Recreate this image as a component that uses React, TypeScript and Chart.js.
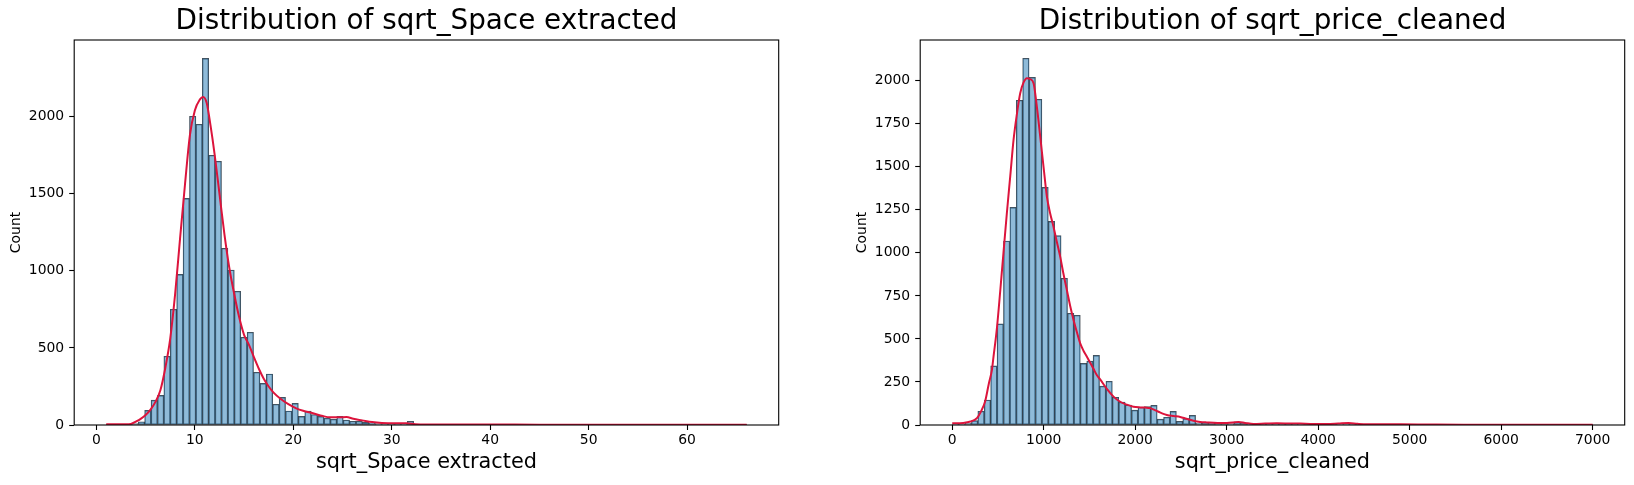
import React, { useEffect, useRef } from 'react';
import { Chart, registerables } from 'chart.js';

Chart.register(...registerables);

const FONT = "'DejaVu Sans', sans-serif";

// sqrt_Space extracted: 100 bins from 1.0, width 0.6505
const spaceBinStart = 1.0;
const spaceBinWidth = 0.6505;
const spaceCounts = [
    1, 1, 2, 4, 10, 21, 95, 161, 192, 446,
    751, 977, 1470, 2002, 1950, 2378, 1749, 1710, 1146, 1005,
    867, 569, 601, 342, 270, 331, 134, 179, 91, 140,
    56, 90, 68, 56, 44, 38, 57, 32, 24, 24,
    17, 13, 9, 9, 6, 6, 4, 24, 3, 2,
    2, 1, 2, 1, 1, 1, 1, 0, 1, 1,
    0, 1, 0, 0, 1, 0, 1, 0, 0, 1,
    0, 0, 1, 0, 0, 0, 1, 0, 0, 0,
    0, 1, 0, 0, 0, 0, 0, 1, 0, 0,
    0, 0, 0, 1, 0, 0, 0, 0, 0, 1
];
const spaceKdeX = [
    1.0, 2.0, 3.0, 3.5, 4.2, 4.5, 5.0, 5.5, 6.0, 6.5, 7.0, 7.5, 8.0, 8.5, 9.0, 9.5,
    10.0, 10.5, 10.85, 11.2, 11.6, 12.0, 12.5, 13.0, 13.5, 14.0, 14.5, 15.0, 15.5,
    16.0, 16.5, 17.0, 17.5, 18.0, 18.7, 19.5, 20.3, 21.0, 22.0, 23.0, 23.7, 24.7,
    25.4, 26.1, 27.0, 28.0, 29.0, 30.4, 31.5, 32.4, 33.5, 36, 40, 45, 50, 55, 60, 66.05
];
const spaceKdeY = [
    5, 5, 5, 7, 28, 40, 65, 100, 150, 225, 370, 560, 850, 1210, 1560, 1880,
    2040, 2110, 2128, 2090, 1940, 1760, 1500, 1240, 1020, 850, 700, 585, 520,
    440, 365, 300, 250, 210, 170, 135, 108, 92, 76, 58, 50, 50,
    52, 40, 30, 19, 13, 11, 11, 5, 3, 3, 3, 2, 2, 1, 1, 1
];
const spaceTicksX = [0, 10, 20, 30, 40, 50, 60];
const spaceTicksY = [0, 500, 1000, 1500, 2000];

// sqrt_price_cleaned: 100 bins from 0, width 70
const priceBinStart = 0;
const priceBinWidth = 70;
const priceCounts = [
    5, 7, 10, 25, 80, 145, 343, 587, 1069, 1264,
    1886, 2130, 2019, 1892, 1380, 1183, 1100, 852, 649, 637,
    358, 371, 404, 226, 254, 161, 133, 116, 86, 104,
    107, 114, 34, 45, 79, 21, 37, 56, 10, 13,
    12, 9, 9, 8, 19, 13, 5, 4, 5, 4,
    6, 7, 6, 5, 3, 3, 2, 3, 2, 2,
    3, 6, 7, 4, 2, 2, 1, 2, 1, 1,
    1, 0, 1, 1, 0, 1, 0, 1, 0, 0,
    1, 0, 0, 1, 0, 0, 0, 1, 0, 0,
    0, 1, 0, 0, 0, 0, 1, 0, 0, 1
];
const priceKdeX = [
    0, 120, 200, 270, 320, 361, 400, 434, 452, 488, 525, 560, 597, 635, 670, 705,
    743, 780, 816, 850, 889, 925, 962, 1000, 1035, 1070, 1107, 1145, 1180, 1215,
    1253, 1290, 1326, 1362, 1399, 1436, 1472, 1510, 1545, 1580, 1617, 1690, 1763,
    1836, 1909, 1980, 2054, 2110, 2164, 2210, 2255, 2300, 2346, 2420, 2492, 2560,
    2637, 2710, 2783, 2900, 3002, 3129, 3200, 3293, 3420, 3548, 3680, 3803, 3950,
    4094, 4220, 4331, 4430, 4532, 4700, 4896, 5200, 5600, 6000, 6500, 7000
];
const priceKdeY = [
    10, 12, 20, 40, 85, 140, 240, 320, 400, 560, 780, 1000, 1230, 1450, 1655, 1800,
    1927, 1990, 2015, 2010, 1985, 1850, 1675, 1490, 1326, 1230, 1152, 1060, 978, 880,
    784, 690, 610, 540, 474, 430, 397, 360, 325, 290, 265, 210, 165,
    135, 118, 106, 102, 101, 98, 88, 77, 66, 58, 52, 47, 36,
    25, 18, 15, 12, 12, 17, 12, 6, 8, 10, 9, 8, 6,
    6, 9, 12, 7, 4, 4, 4, 3, 2, 2, 2, 2
];
const priceTicksX = [0, 1000, 2000, 3000, 4000, 5000, 6000, 7000];
const priceTicksY = [0, 250, 500, 750, 1000, 1250, 1500, 1750, 2000];

const framePlugin = {
    id: 'frame',
    afterDatasetsDraw(chart) {
        const { ctx, chartArea } = chart;
        ctx.save();
        ctx.strokeStyle = '#000';
        ctx.lineWidth = 1.1;
        ctx.strokeRect(chartArea.left, chartArea.top, chartArea.right - chartArea.left, chartArea.bottom - chartArea.top);
        ctx.restore();
    }
};

function HistPanel(props) {
    const canvas = useRef<HTMLCanvasElement>(null);
    const { title, xLabel, counts, binStart, binWidth, kdeX, kdeY, xTicks, yTicks, xMin, xMax, yMax, left } = props;

    useEffect(() => {
        const bars = counts.map((c, i) => ({ x: binStart + (i + 0.5) * binWidth, y: c }));
        const kde = kdeX.map((x, i) => ({ x, y: kdeY[i] }));
        const tickFont = { family: FONT, size: 13.9 };

        const chart = new Chart(canvas.current, {
            type: 'bar',
            data: {
                datasets: [
                    {
                        type: 'line',
                        data: kde,
                        borderColor: '#dc143c',
                        borderWidth: 2,
                        pointRadius: 0,
                        tension: 0.4,
                        cubicInterpolationMode: 'monotone',
                        order: 0,
                        xAxisID: 'x',
                        yAxisID: 'y'
                    },
                    {
                        type: 'bar',
                        data: bars,
                        backgroundColor: 'rgba(31, 119, 180, 0.5)',
                        borderColor: 'rgba(25, 35, 45, 0.8)',
                        borderWidth: 0.7,
                        borderSkipped: false,
                        barPercentage: 1,
                        categoryPercentage: 1,
                        order: 1,
                        xAxisID: 'x',
                        yAxisID: 'y'
                    }
                ]
            },
            options: {
                responsive: false,
                animation: false,
                events: [],
                layout: { padding: 0 },
                plugins: {
                    legend: { display: false },
                    tooltip: { enabled: false },
                    title: {
                        display: true,
                        text: title,
                        color: '#000',
                        font: { family: FONT, size: 27.8, weight: 'normal', lineHeight: 1.2 },
                        padding: { top: 5.2, bottom: 1.44 }
                    }
                },
                scales: {
                    x: {
                        type: 'linear',
                        min: xMin,
                        max: xMax,
                        offset: false,
                        afterBuildTicks: (s) => { s.ticks = xTicks.map(v => ({ value: v })); },
                        afterFit: (s) => { s.height = 60; },
                        grid: {
                            display: true,
                            drawOnChartArea: false,
                            drawTicks: true,
                            tickLength: 5,
                            tickColor: '#000',
                            tickWidth: 1.1,
                            offset: false
                        },
                        border: { display: false },
                        ticks: {
                            color: '#000',
                            font: tickFont,
                            padding: 2,
                            maxRotation: 0,
                            autoSkip: false,
                            callback: (v) => String(v)
                        },
                        title: {
                            display: true,
                            text: xLabel,
                            color: '#000',
                            font: { family: FONT, size: 20.8 },
                            padding: { top: 0, bottom: 9.7 }
                        }
                    },
                    y: {
                        type: 'linear',
                        position: 'left',
                        min: 0,
                        max: yMax,
                        afterBuildTicks: (s) => { s.ticks = yTicks.map(v => ({ value: v })); },
                        afterFit: (s) => { s.width = 74.2; },
                        grid: {
                            display: true,
                            drawOnChartArea: false,
                            drawTicks: true,
                            tickLength: 5,
                            tickColor: '#000',
                            tickWidth: 1.1
                        },
                        border: { display: false },
                        ticks: {
                            color: '#000',
                            font: tickFont,
                            padding: 5,
                            autoSkip: false,
                            callback: (v) => String(v)
                        },
                        title: {
                            display: true,
                            text: 'Count',
                            color: '#000',
                            font: { family: FONT, size: 13.9 },
                            padding: { top: 8.2, bottom: 0 }
                        }
                    },
                    pad: {
                        type: 'linear',
                        position: 'right',
                        display: true,
                        ticks: { display: false },
                        grid: { display: false },
                        border: { display: false },
                        afterFit: (s) => { s.width = 74.3; }
                    }
                }
            },
            plugins: [framePlugin]
        });
        return () => {
            chart.destroy();
        };
    }, []);

    return (
        <canvas
            ref={canvas}
            width={853}
            height={485}
            style={{ position: 'absolute', left, top: 0, width: 853, height: 485 }}
        ></canvas>
    );
}

export default function App() {
    return (
        <div style={{ position: 'fixed', left: 0, top: 0, width: 1634, height: 485, overflow: 'hidden', background: '#fff' }}>
            <HistPanel
                title="Distribution of sqrt_Space extracted"
                xLabel="sqrt_Space extracted"
                counts={spaceCounts}
                binStart={spaceBinStart}
                binWidth={spaceBinWidth}
                kdeX={spaceKdeX}
                kdeY={spaceKdeY}
                xTicks={spaceTicksX}
                yTicks={spaceTicksY}
                xMin={-2.2525}
                xMax={69.3025}
                yMax={2497}
                left={0}
            />
            <HistPanel
                title="Distribution of sqrt_price_cleaned"
                xLabel="sqrt_price_cleaned"
                counts={priceCounts}
                binStart={priceBinStart}
                binWidth={priceBinWidth}
                kdeX={priceKdeX}
                kdeY={priceKdeY}
                xTicks={priceTicksX}
                yTicks={priceTicksY}
                xMin={-350}
                xMax={7350}
                yMax={2236.5}
                left={846}
            />
        </div>
    );
}
